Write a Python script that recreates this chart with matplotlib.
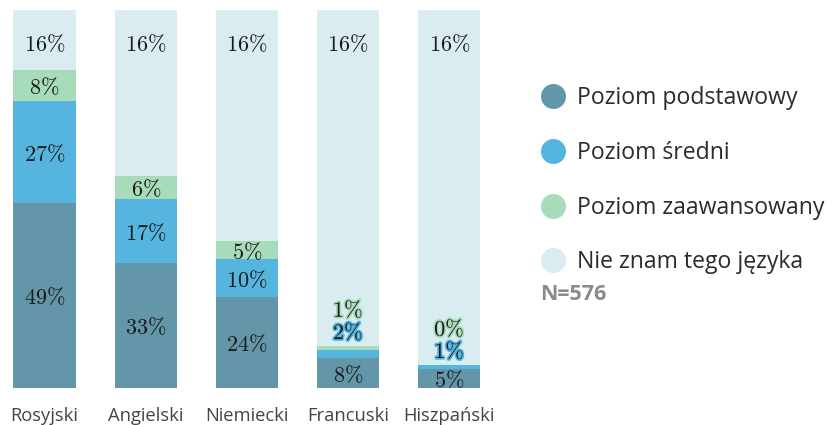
import matplotlib
matplotlib.use("Agg")
from matplotlib import pyplot as plt
from matplotlib.lines import Line2D
import matplotlib.patheffects as pe
import numpy as np

# dane
jezyki = ['Rosyjski', 'Angielski', 'Niemiecki', 'Francuski', 'Hiszpański']
podstawowy = [49, 33, 24, 8, 5]
sredni = [27, 17, 10, 2, 1]
zaawansowany = [8, 6, 5, 1, 0]
nie_znam = [16, 44, 61, 89, 94]
etykiety_nie_znam = ['16%', '16%', '16%', '16%', '16%']
serie = ['Poziom podstawowy', 'Poziom średni', 'Poziom zaawansowany',
         'Nie znam tego języka']
kolory = ['#6296a8', '#56b5df', '#a8dbb9', '#d9ecf0']

plt.rcParams['mathtext.fontset'] = 'cm'
plt.rcParams['font.family'] = ['Open Sans', 'DejaVu Sans']

fig = plt.figure(figsize=(8.34, 4.25), dpi=100)
ax = fig.add_axes([0, 37 / 425, 500 / 834, 378 / 425])

x = np.arange(len(jezyki))
szer = 0.613
dane = [podstawowy, sredni, zaawansowany, nie_znam]
dol = np.zeros(len(jezyki))
for vals, kol in zip(dane, kolory):
    ax.bar(x, vals, szer, bottom=dol, color=kol, linewidth=0)
    dol += np.array(vals)

def napis(xp, yp, txt, obrys=None):
    t = ax.text(xp, yp - 0.8, '$' + txt.replace('%', r'\%') + '$',
                ha='center', va='center', fontsize=16, color='#1a1a1a')
    if obrys:
        t.set_path_effects([pe.withStroke(linewidth=2.5, foreground=obrys)])

for i in range(len(jezyki)):
    p, s, z = podstawowy[i], sredni[i], zaawansowany[i]
    napis(i, p / 2, f'{p}%')
    if s >= 5:
        napis(i, p + s / 2, f'{s}%')
        napis(i, p + s + z / 2, f'{z}%')
    else:
        top = p + s + z
        napis(i, top + 4.3, f'{s}%', kolory[1])
        napis(i, top + 10.2, f'{z}%', kolory[2])
    napis(i, 91.5, etykiety_nie_znam[i])

ax.set_xlim(-44.5 / 101.2, (500 - 44.5) / 101.2)
ax.set_ylim(0, 100)
ax.axis('off')

for i, j in enumerate(jezyki):
    ax.text(i, -7.5, j, ha='center', va='center', fontsize=13.2,
            color='#444444')

uchwyty = [Line2D([], [], marker='o', linestyle='none', markersize=18,
                  markerfacecolor=k, markeredgewidth=0) for k in kolory]
leg = fig.legend(uchwyty, serie, loc='upper left',
                 bbox_to_anchor=(540.5 / 834, 1 - 86.5 / 425), frameon=False,
                 fontsize=16.6, labelspacing=1.33, handletextpad=0.5,
                 handlelength=1.1, borderpad=0, borderaxespad=0)
for t in leg.get_texts():
    t.set_color('#2b2b2b')

fig.text(540 / 834, 1 - 295 / 425, 'N=576', fontsize=15.5, fontweight='bold',
         color='#8a8a8a', va='center')

plt.savefig('out.png', dpi=100)
